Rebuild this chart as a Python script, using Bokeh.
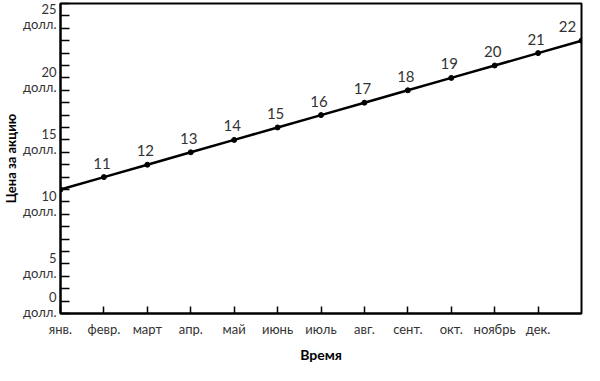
from bokeh.plotting import figure
from bokeh.models import Range1d, FixedTicker, ColumnDataSource, LinearAxis
from bokeh.core.properties import value
from bokeh.embed import file_html
from bokeh.resources import INLINE

# ---- data ----
months = ["янв.", "февр.", "март", "апр.", "май", "июнь", "июль",
          "авг.", "сент.", "окт.", "ноябрь", "дек."]
month_index = [0, 1, 2, 3, 4, 5, 6, 7, 8, 9, 10, 11, 12]
prices = [10, 11, 12, 13, 14, 15, 16, 17, 18, 19, 20, 21, 22]
y_label_values = [0, 5, 10, 15, 20, 25]
y_label_text = ["0", "5", "10", "15", "20", "25"]
y_unit = "долл."

FONT = "Lato"
TXT = "#333333"

p = figure(width=584, height=365, x_range=Range1d(0, 12), y_range=Range1d(0, 25),
           output_backend="svg", toolbar_location=None,
           min_border_left=5, min_border_right=3, min_border_top=3, min_border_bottom=10)
p.grid.visible = False
p.outline_line_color = "black"
p.outline_line_width = 2
p.background_fill_color = "white"
p.border_fill_color = "white"

# x axis
xa = p.xaxis[0]
xa.ticker = FixedTicker(ticks=list(range(12)))
xa.major_label_overrides = {i: m for i, m in enumerate(months)}
xa.major_tick_in = 7
xa.major_tick_out = 0
xa.major_tick_line_width = 1.5
xa.minor_tick_line_color = None
xa.axis_line_width = 2
xa.major_label_text_font = FONT
xa.major_label_text_font_size = "13px"
xa.major_label_text_color = TXT
xa.major_label_standoff = 7
xa.axis_label = "Время"
xa.axis_label_text_font = FONT
xa.axis_label_text_font_style = "bold"
xa.axis_label_text_font_size = "14px"
xa.axis_label_text_color = "black"
xa.axis_label_standoff = 6

# y axis: line and ticks only
ya = p.yaxis[0]
ya.ticker = FixedTicker(ticks=list(range(26)))
ya.major_label_overrides = {i: "" for i in range(26)}
ya.major_tick_in = 9
ya.major_tick_out = 0
ya.major_tick_line_width = 1.5
ya.minor_tick_line_color = None
ya.axis_line_width = 2
ya.major_label_text_font_size = "0px"
ya.major_label_standoff = 0
ya.axis_label = None
ya.axis_label_standoff = 0

# second y axis: the two-line labels (number + unit), shifted below their ticks
label_shift = [-0.7, 1.1, 1.1, 1.1, 1.1, 0.95]
label_pos = [v - s for v, s in zip(y_label_values, label_shift)]
ya2 = LinearAxis(
    ticker=FixedTicker(ticks=label_pos),
    major_label_overrides={pos: f"{t}\n{y_unit}" for pos, t in zip(label_pos, y_label_text)},
    axis_line_color=None, major_tick_line_color=None, minor_tick_line_color=None,
    major_tick_in=0, major_tick_out=0,
    major_label_standoff=4,
    major_label_text_font=FONT, major_label_text_font_size="13px",
    major_label_text_color=TXT, major_label_text_line_height=0.95,
    axis_label="Цена за акцию", axis_label_text_font=FONT,
    axis_label_text_font_style="bold", axis_label_text_font_size="13px",
    axis_label_text_color="black", axis_label_standoff=1,
)
p.add_layout(ya2, "left")

# line and points
p.line(month_index, prices, line_color="black", line_width=2.5)
p.scatter(month_index, prices, size=5, color="black")

# point labels
lbl_x_off = [-2] * 11 + [-14]
psrc = ColumnDataSource(dict(x=month_index[1:], y=prices[1:],
                             t=[str(v) for v in prices[1:]], dx=lbl_x_off))
p.text(x="x", y="y", text="t", source=psrc, x_offset="dx", y_offset=-14,
       text_align="center", text_baseline="middle",
       text_font=value(FONT), text_font_size="15px", text_color=TXT)

open("out.html", "w").write(file_html(p, INLINE))
